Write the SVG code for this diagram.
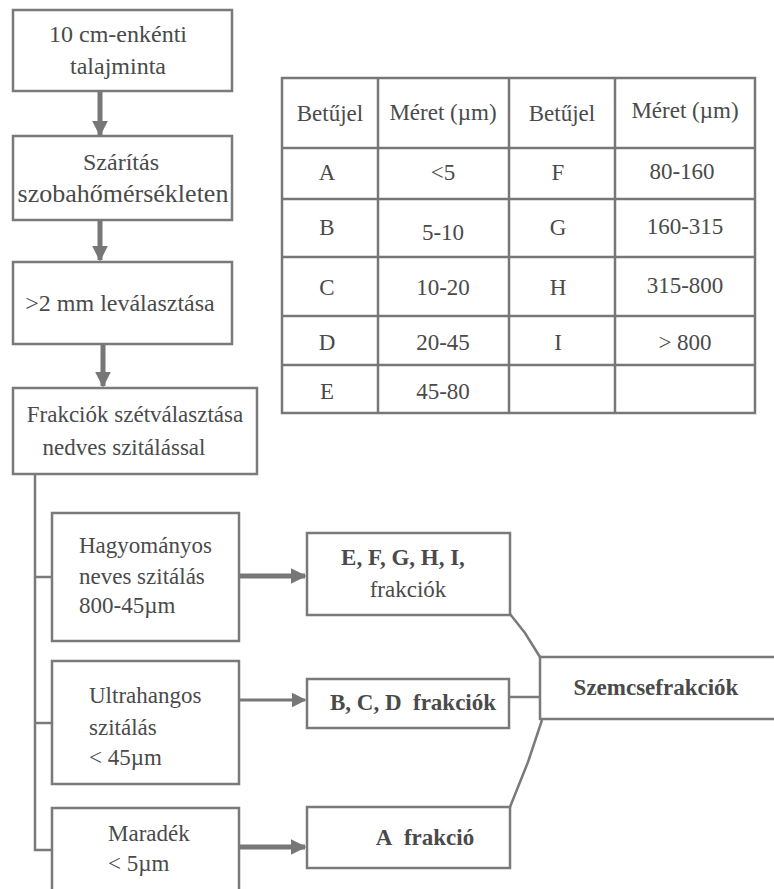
<svg xmlns="http://www.w3.org/2000/svg" width="774" height="889" viewBox="0 0 774 889">
<defs>
<style>
.box{fill:#fff;stroke:#7a7a7a;stroke-width:2.5}
.ln{fill:none;stroke:#7a7a7a;stroke-width:2.5}
.thick{fill:none;stroke:#777;stroke-width:5}
.mid{fill:none;stroke:#777;stroke-width:3}
.grid{stroke:#777;stroke-width:2.5;fill:none}
</style>
<marker id="ah" viewBox="0 0 10 10" refX="9" refY="5" markerWidth="3.2" markerHeight="3.2" markerUnits="strokeWidth" orient="auto">
<path d="M0,0 L10,5 L0,10 z" fill="#777"/>
</marker>
<marker id="ah2" viewBox="0 0 10 10" refX="9" refY="5" markerWidth="5" markerHeight="5" markerUnits="strokeWidth" orient="auto">
<path d="M0,0 L10,5 L0,10 z" fill="#777"/>
</marker>
</defs>
<rect width="774" height="889" fill="#fff"/>

<g id="connectors">
<line class="thick" x1="100" y1="92" x2="100" y2="135" marker-end="url(#ah)"/>
<line class="thick" x1="100" y1="221" x2="100" y2="260" marker-end="url(#ah)"/>
<line class="thick" x1="103" y1="345" x2="103" y2="386" marker-end="url(#ah)"/>
<polyline class="ln" points="35,474 35,850 52,850"/>
<line class="ln" x1="35" y1="577" x2="52" y2="577"/>
<line class="ln" x1="35" y1="723" x2="52" y2="723"/>
<line class="thick" x1="240" y1="576" x2="305" y2="576" marker-end="url(#ah)"/>
<line class="mid" x1="240" y1="700" x2="305" y2="700" marker-end="url(#ah2)"/>
<line class="thick" x1="240" y1="847" x2="305" y2="847" marker-end="url(#ah)"/>
<polyline class="ln" points="510,614 525,633 540,657"/>
<line class="ln" x1="509" y1="697" x2="540" y2="697"/>
<polyline class="ln" points="510,807 528,762 542,720"/>
</g>

<g id="n1"><rect class="box" x="13" y="10" width="219" height="81"/>
<text x="118" y="42" text-anchor="middle" fill="#4a4a4a" font-family="Liberation Serif" font-size="24" style="font-family:'Liberation Serif',serif">10 cm-enkénti</text>
<text x="118" y="74" text-anchor="middle" fill="#4a4a4a" font-family="Liberation Serif" font-size="24" style="font-family:'Liberation Serif',serif">talajminta</text></g>

<g id="n2"><rect class="box" x="13" y="136" width="219" height="84"/>
<text x="121" y="170" text-anchor="middle" fill="#4a4a4a" font-family="Liberation Serif" font-size="24" style="font-family:'Liberation Serif',serif">Szárítás</text>
<text x="123" y="202" text-anchor="middle" fill="#4a4a4a" font-family="Liberation Serif" font-size="26" style="font-family:'Liberation Serif',serif">szobahőmérsékleten</text></g>

<g id="n3"><rect class="box" x="13" y="262" width="219" height="82"/>
<text x="120" y="311" text-anchor="middle" fill="#4a4a4a" font-family="Liberation Serif" font-size="24" style="font-family:'Liberation Serif',serif">&gt;2 mm leválasztása</text></g>

<g id="n4"><rect class="box" x="13" y="388" width="244" height="86"/>
<text x="135" y="422" text-anchor="middle" fill="#4a4a4a" font-family="Liberation Serif" font-size="23" style="font-family:'Liberation Serif',serif">Frakciók szétválasztása</text>
<text x="124" y="455" text-anchor="middle" fill="#4a4a4a" font-family="Liberation Serif" font-size="23" style="font-family:'Liberation Serif',serif">nedves szitálással</text></g>

<g id="table">
<rect class="grid" x="282" y="78" width="473" height="335"/>
<line class="grid" x1="378" y1="78" x2="378" y2="413"/>
<line class="grid" x1="509" y1="78" x2="509" y2="413"/>
<line class="grid" x1="615" y1="78" x2="615" y2="413"/>
<line class="grid" x1="282" y1="148" x2="755" y2="148"/>
<line class="grid" x1="282" y1="199" x2="755" y2="199"/>
<line class="grid" x1="282" y1="257" x2="755" y2="257"/>
<line class="grid" x1="282" y1="316" x2="755" y2="316"/>
<line class="grid" x1="282" y1="365" x2="755" y2="365"/>
<g text-anchor="middle" fill="#4a4a4a" font-size="23">
<text x="330" y="121" font-family="Liberation Serif" style="font-family:'Liberation Serif',serif">Betűjel</text>
<text x="443" y="120" font-family="Liberation Serif" style="font-family:'Liberation Serif',serif">Méret (µm)</text>
<text x="562" y="121" font-family="Liberation Serif" style="font-family:'Liberation Serif',serif">Betűjel</text>
<text x="685" y="118" font-family="Liberation Serif" style="font-family:'Liberation Serif',serif">Méret (µm)</text>
<text x="327" y="180" font-family="Liberation Serif" style="font-family:'Liberation Serif',serif">A</text>
<text x="443" y="180" font-family="Liberation Serif" style="font-family:'Liberation Serif',serif">&lt;5</text>
<text x="558" y="180" font-family="Liberation Serif" style="font-family:'Liberation Serif',serif">F</text>
<text x="682" y="179" font-family="Liberation Serif" style="font-family:'Liberation Serif',serif">80-160</text>
<text x="327" y="235" font-family="Liberation Serif" style="font-family:'Liberation Serif',serif">B</text>
<text x="443" y="240" font-family="Liberation Serif" style="font-family:'Liberation Serif',serif">5-10</text>
<text x="558" y="235" font-family="Liberation Serif" style="font-family:'Liberation Serif',serif">G</text>
<text x="685" y="234" font-family="Liberation Serif" style="font-family:'Liberation Serif',serif">160-315</text>
<text x="327" y="295" font-family="Liberation Serif" style="font-family:'Liberation Serif',serif">C</text>
<text x="443" y="295" font-family="Liberation Serif" style="font-family:'Liberation Serif',serif">10-20</text>
<text x="558" y="295" font-family="Liberation Serif" style="font-family:'Liberation Serif',serif">H</text>
<text x="685" y="293" font-family="Liberation Serif" style="font-family:'Liberation Serif',serif">315-800</text>
<text x="327" y="350" font-family="Liberation Serif" style="font-family:'Liberation Serif',serif">D</text>
<text x="443" y="350" font-family="Liberation Serif" style="font-family:'Liberation Serif',serif">20-45</text>
<text x="558" y="350" font-family="Liberation Serif" style="font-family:'Liberation Serif',serif">I</text>
<text x="685" y="350" font-family="Liberation Serif" style="font-family:'Liberation Serif',serif">&gt; 800</text>
<text x="327" y="399" font-family="Liberation Serif" style="font-family:'Liberation Serif',serif">E</text>
<text x="443" y="399" font-family="Liberation Serif" style="font-family:'Liberation Serif',serif">45-80</text>
</g>
</g>

<g id="n5"><rect class="box" x="52" y="513" width="187" height="128"/>
<g fill="#4a4a4a" font-size="23">
<text x="79" y="553" font-family="Liberation Serif" style="font-family:'Liberation Serif',serif">Hagyományos</text>
<text x="79" y="584" font-family="Liberation Serif" style="font-family:'Liberation Serif',serif">neves szitálás</text>
<text x="79" y="613" font-family="Liberation Serif" style="font-family:'Liberation Serif',serif">800-45µm</text></g></g>

<g id="n6"><rect class="box" x="52" y="661" width="187" height="123"/>
<g fill="#4a4a4a" font-size="23">
<text x="89" y="703" font-family="Liberation Serif" style="font-family:'Liberation Serif',serif">Ultrahangos</text>
<text x="89" y="735" font-family="Liberation Serif" style="font-family:'Liberation Serif',serif">szitálás</text>
<text x="89" y="765" font-family="Liberation Serif" style="font-family:'Liberation Serif',serif">&lt; 45µm</text></g></g>

<g id="n7"><rect class="box" x="52" y="808" width="187" height="90"/>
<g fill="#4a4a4a" font-size="23">
<text x="108" y="841" font-family="Liberation Serif" style="font-family:'Liberation Serif',serif">Maradék</text>
<text x="108" y="871" font-family="Liberation Serif" style="font-family:'Liberation Serif',serif">&lt; 5µm</text></g></g>

<g id="n8"><rect class="box" x="307" y="533" width="203" height="82"/>
<g fill="#4a4a4a" font-size="23" text-anchor="middle">
<text x="403" y="565" font-weight="bold" font-family="Liberation Serif" style="font-family:'Liberation Serif',serif">E, F, G, H, I,</text>
<text x="408" y="597" font-family="Liberation Serif" style="font-family:'Liberation Serif',serif">frakciók</text></g></g>

<g id="n9"><rect class="box" x="307" y="679" width="202" height="49"/>
<text x="413" y="710" fill="#4a4a4a" font-size="23" text-anchor="middle" font-weight="bold" font-family="Liberation Serif" style="font-family:'Liberation Serif',serif">B, C, D&#160; frakciók</text></g>

<g id="n10"><rect class="box" x="307" y="807" width="203" height="61"/>
<text x="425" y="845" fill="#4a4a4a" font-size="23" text-anchor="middle" font-weight="bold" font-family="Liberation Serif" style="font-family:'Liberation Serif',serif">A&#160; frakció</text></g>

<g id="n11"><rect class="box" x="540" y="657" width="240" height="62"/>
<text x="656" y="695" fill="#4a4a4a" font-size="23" text-anchor="middle" font-weight="bold" font-family="Liberation Serif" style="font-family:'Liberation Serif',serif">Szemcsefrakciók</text></g>
</svg>
